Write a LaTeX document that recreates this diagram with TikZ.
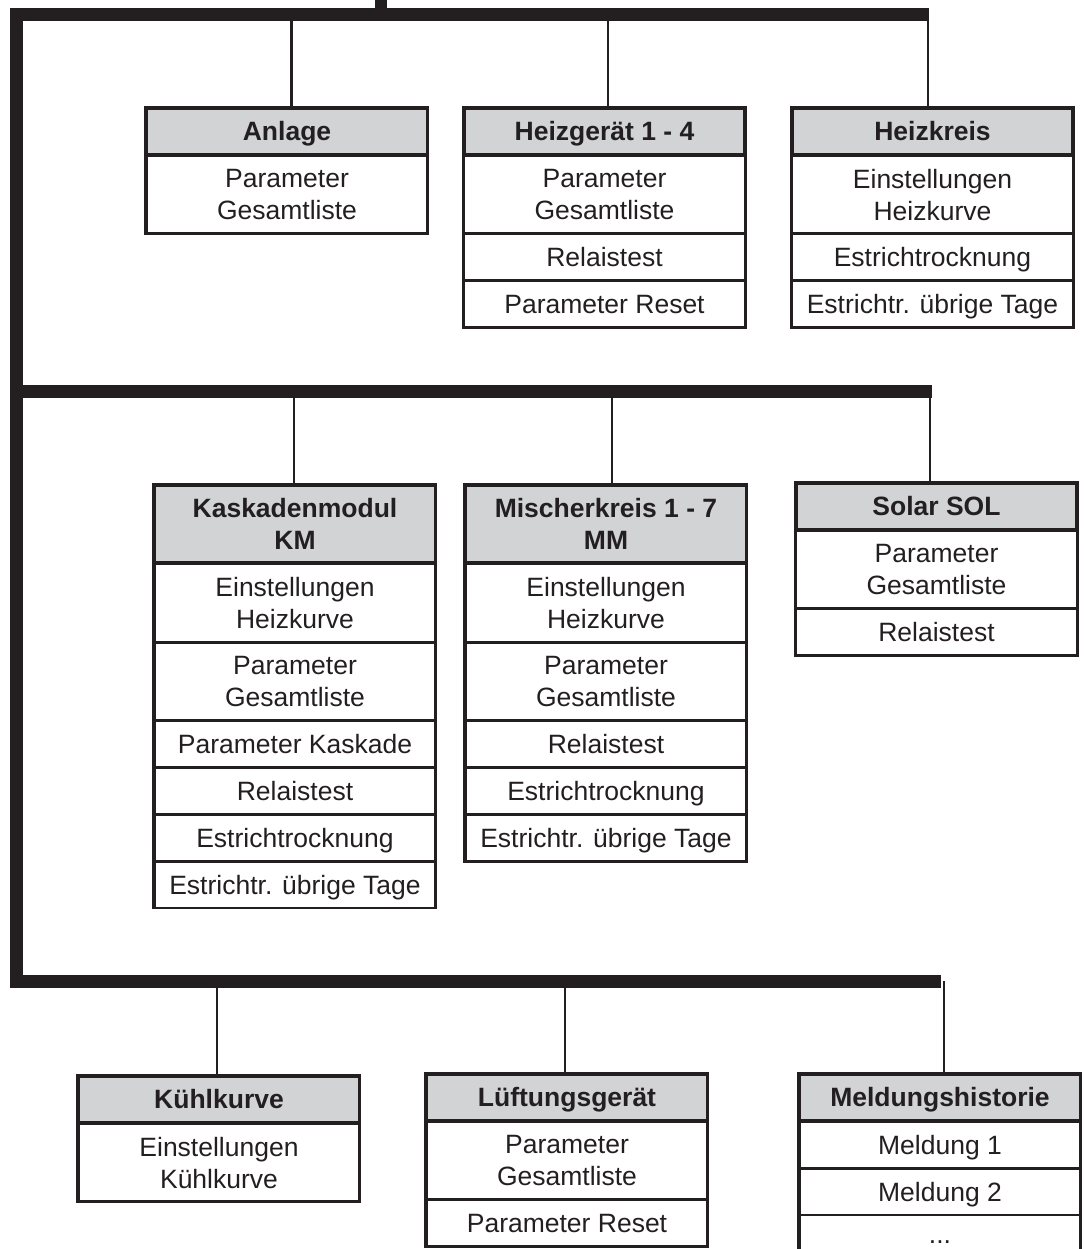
\documentclass[tikz,border=0pt]{standalone}
\usepackage{fontspec}
\setmainfont{Liberation Sans}
\definecolor{ink}{RGB}{35,31,32}
\definecolor{hdrgray}{RGB}{209,211,212}
\tikzset{
  bus/.style={draw=ink, line width=6.5pt},
  link/.style={draw=ink, line width=1.2pt},
  hdr/.style={draw=ink, line width=1.35pt, fill=hdrgray, text=ink, minimum width=140pt, inner sep=0pt, anchor=north, align=center, font=\bfseries\fontsize{13.25}{16}\selectfont},
  itm/.style={draw=ink, line width=0.7pt, text=ink, minimum width=140pt, inner sep=0pt, anchor=north, align=center, font=\fontsize{13.25}{16}\selectfont},
  one/.style={minimum height=22.75pt, text height=9.5pt, text depth=0pt},
  two/.style={minimum height=38.5pt, text depth=0pt},
  frame/.style={draw=ink, line width=1.35pt}
}
\begin{document}
\begin{tikzpicture}[x=0.5pt, y=-0.5pt]
\useasboundingbox (0,0) rectangle (1083,1249);
\clip (0,0) rectangle (1083,1249);

% ---------- row 1 ----------
\node[hdr, one] (anl) at (287,107) {Anlage};
\node[itm, two] (anl1) at (anl.south) {Parameter\\Gesamtliste};
\draw[frame] (anl.north west) rectangle (anl1.south east);

\node[hdr, one] (hg) at (604.5,107) {Heizgerät 1 - 4};
\node[itm, two] (hg1) at (hg.south) {Parameter\\Gesamtliste};
\node[itm, one] (hg2) at (hg1.south) {Relaistest};
\node[itm, one] (hg3) at (hg2.south) {Parameter Reset};
\draw[frame] (hg.north west) rectangle (hg3.south east);

\node[hdr, one] (hk) at (932.5,107) {Heizkreis};
\node[itm, two] (hk1) at (hk.south) {Einstellungen\\Heizkurve};
\node[itm, one] (hk2) at (hk1.south) {Estrichtrocknung};
\node[itm, one] (hk3) at (hk2.south) {Estrichtr. übrige Tage};
\draw[frame] (hk.north west) rectangle (hk3.south east);

% ---------- row 2 ----------
\node[hdr, two] (km) at (295,484) {Kaskadenmodul\\KM};
\node[itm, two] (km1) at (km.south) {Einstellungen\\Heizkurve};
\node[itm, two] (km2) at (km1.south) {Parameter\\Gesamtliste};
\node[itm, one] (km3) at (km2.south) {Parameter Kaskade};
\node[itm, one] (km4) at (km3.south) {Relaistest};
\node[itm, one] (km5) at (km4.south) {Estrichtrocknung};
\node[itm, one] (km6) at (km5.south) {Estrichtr. übrige Tage};
\draw[frame] (km.north west) rectangle (km6.south east);

\node[hdr, two] (mk) at (606,484) {Mischerkreis 1 - 7\\MM};
\node[itm, two] (mk1) at (mk.south) {Einstellungen\\Heizkurve};
\node[itm, two] (mk2) at (mk1.south) {Parameter\\Gesamtliste};
\node[itm, one] (mk3) at (mk2.south) {Relaistest};
\node[itm, one] (mk4) at (mk3.south) {Estrichtrocknung};
\node[itm, one] (mk5) at (mk4.south) {Estrichtr. übrige Tage};
\draw[frame] (mk.north west) rectangle (mk5.south east);

\node[hdr, one] (sol) at (936.5,482) {Solar SOL};
\node[itm, two] (sol1) at (sol.south) {Parameter\\Gesamtliste};
\node[itm, one] (sol2) at (sol1.south) {Relaistest};
\draw[frame] (sol.north west) rectangle (sol2.south east);

% ---------- row 3 ----------
\node[hdr, one] (kk) at (219,1075) {Kühlkurve};
\node[itm, two] (kk1) at (kk.south) {Einstellungen\\Kühlkurve};
\draw[frame] (kk.north west) rectangle (kk1.south east);

\node[hdr, one] (lg) at (567,1073) {Lüftungsgerät};
\node[itm, two] (lg1) at (lg.south) {Parameter\\Gesamtliste};
\node[itm, one] (lg2) at (lg1.south) {Parameter Reset};
\draw[frame] (lg.north west) rectangle (lg2.south east);

\node[hdr, one] (mh) at (940,1073) {Meldungshistorie};
\node[itm, one] (mh1) at (mh.south) {Meldung 1};
\node[itm, one] (mh2) at (mh1.south) {Meldung 2};
\node[itm, one] (mh3) at (mh2.south) {\raisebox{2pt}{...}};
\draw[frame] (mh.north west) rectangle (mh3.south east);

% ---------- bus points ----------
\coordinate (root) at (381,0);
\coordinate (rootj) at (381,14.5);
\coordinate (t1) at (291.5,14.5);
\coordinate (t2) at (608,14.5);
\coordinate (t3) at (928,14.5);
\coordinate (m1) at (294,391);
\coordinate (m2) at (612,391);
\coordinate (m3) at (930,391);
\coordinate (u1) at (217,981);
\coordinate (u2) at (565,981);
\coordinate (u3) at (944,981);

% ---------- connectors ----------
\draw[link] (t1) -- (t1 |- anl.north);
\draw[link] (t2) -- (t2 |- hg.north);
\draw[link] (t3) -- (t3 |- hk.north);
\draw[link] (m1) -- (m1 |- km.north);
\draw[link] (m2) -- (m2 |- mk.north);
\draw[link] (m3) -- (m3 |- sol.north);
\draw[link] (u1) -- (u1 |- kk.north);
\draw[link] (u2) -- (u2 |- lg.north);
\draw[link] (u3) -- (u3 |- mh.north);

% ---------- thick bus ----------
\draw[bus, line width=6pt] (root) -- (rootj);
\draw[bus] (929,14.5) -- (16.5,14.5) -- (16.5,981) -- (941,981);
\draw[bus] (16.5,391) -- (932,391);
\end{tikzpicture}
\end{document}
